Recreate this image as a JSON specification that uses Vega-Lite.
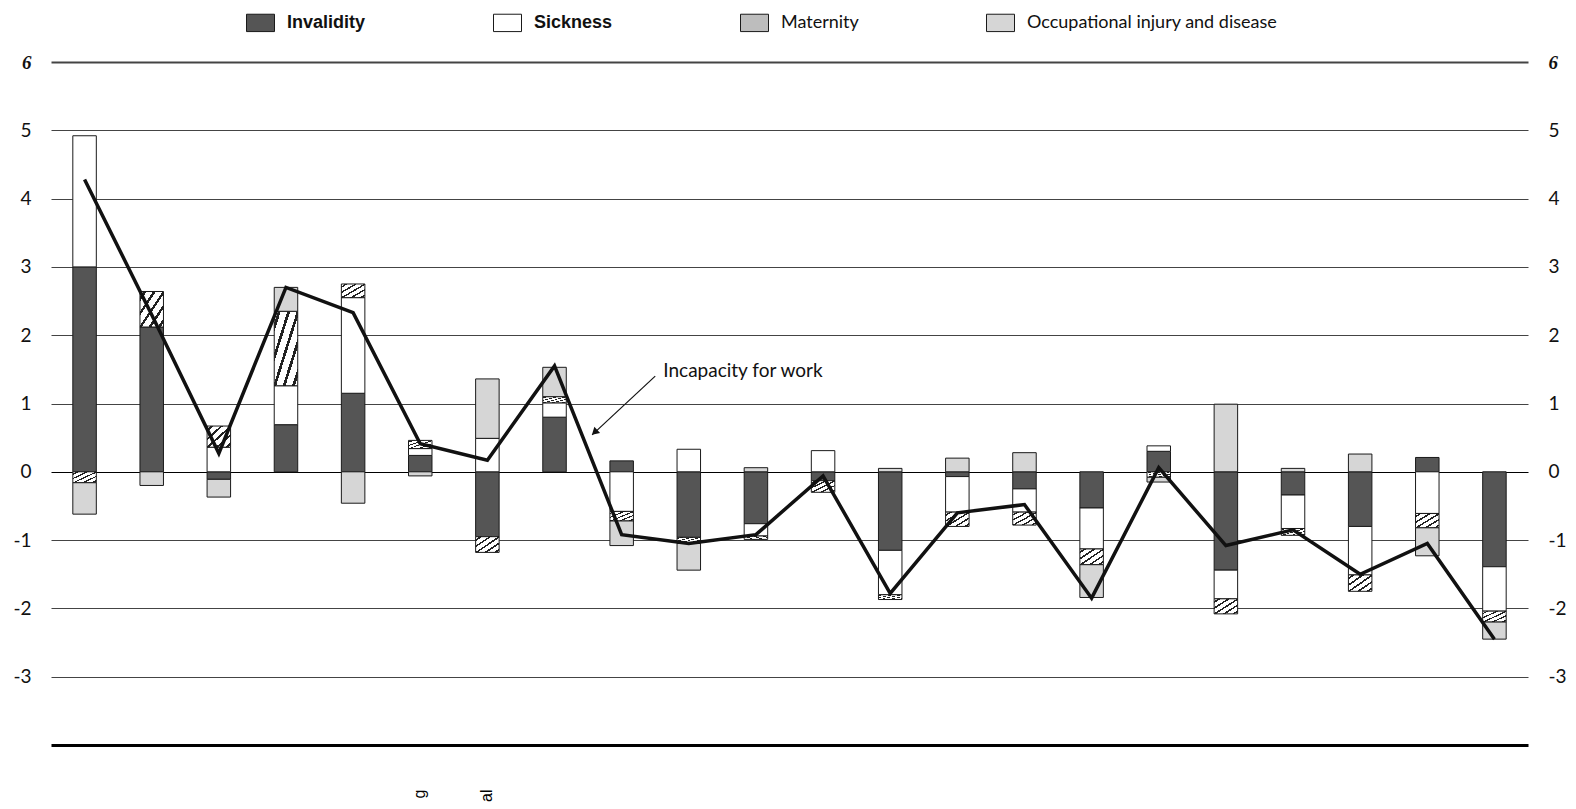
{
  "$schema": "https://vega.github.io/schema/vega-lite/v6.json",
  "width": 1477,
  "height": 683,
  "autosize": {"type": "none"},
  "padding": {"left": 51, "top": 62, "right": 48, "bottom": 64},
  "background": "#ffffff",
  "config": {"view": {"stroke": null}},
  "datasets": {
    "bars": [
      {"cat": 1, "type": "Invalidity", "value": 3.0},
      {"cat": 1, "type": "Sickness", "value": 1.92},
      {"cat": 1, "type": "Maternity", "value": -0.16},
      {"cat": 1, "type": "Occupational injury and disease", "value": -0.46},
      {"cat": 2, "type": "Invalidity", "value": 2.12},
      {"cat": 2, "type": "Maternity", "value": 0.52},
      {"cat": 2, "type": "Occupational injury and disease", "value": -0.2},
      {"cat": 3, "type": "Invalidity", "value": -0.11},
      {"cat": 3, "type": "Sickness", "value": 0.36},
      {"cat": 3, "type": "Maternity", "value": 0.31},
      {"cat": 3, "type": "Occupational injury and disease", "value": -0.26},
      {"cat": 4, "type": "Invalidity", "value": 0.69},
      {"cat": 4, "type": "Sickness", "value": 0.57},
      {"cat": 4, "type": "Maternity", "value": 1.09},
      {"cat": 4, "type": "Occupational injury and disease", "value": 0.35},
      {"cat": 5, "type": "Invalidity", "value": 1.15},
      {"cat": 5, "type": "Sickness", "value": 1.4},
      {"cat": 5, "type": "Maternity", "value": 0.2},
      {"cat": 5, "type": "Occupational injury and disease", "value": -0.46},
      {"cat": 6, "type": "Invalidity", "value": 0.24},
      {"cat": 6, "type": "Sickness", "value": 0.1},
      {"cat": 6, "type": "Maternity", "value": 0.12},
      {"cat": 6, "type": "Occupational injury and disease", "value": -0.06},
      {"cat": 7, "type": "Invalidity", "value": -0.95},
      {"cat": 7, "type": "Sickness", "value": 0.49},
      {"cat": 7, "type": "Maternity", "value": -0.23},
      {"cat": 7, "type": "Occupational injury and disease", "value": 0.87},
      {"cat": 8, "type": "Invalidity", "value": 0.8},
      {"cat": 8, "type": "Sickness", "value": 0.21},
      {"cat": 8, "type": "Maternity", "value": 0.09},
      {"cat": 8, "type": "Occupational injury and disease", "value": 0.43},
      {"cat": 9, "type": "Invalidity", "value": 0.16},
      {"cat": 9, "type": "Sickness", "value": -0.58},
      {"cat": 9, "type": "Maternity", "value": -0.14},
      {"cat": 9, "type": "Occupational injury and disease", "value": -0.36},
      {"cat": 10, "type": "Invalidity", "value": -0.96},
      {"cat": 10, "type": "Sickness", "value": 0.33},
      {"cat": 10, "type": "Maternity", "value": -0.09},
      {"cat": 10, "type": "Occupational injury and disease", "value": -0.39},
      {"cat": 11, "type": "Invalidity", "value": -0.76},
      {"cat": 11, "type": "Sickness", "value": -0.18},
      {"cat": 11, "type": "Maternity", "value": -0.05},
      {"cat": 11, "type": "Occupational injury and disease", "value": 0.06},
      {"cat": 12, "type": "Invalidity", "value": -0.13},
      {"cat": 12, "type": "Sickness", "value": 0.31},
      {"cat": 12, "type": "Maternity", "value": -0.17},
      {"cat": 13, "type": "Invalidity", "value": -1.15},
      {"cat": 13, "type": "Sickness", "value": -0.65},
      {"cat": 13, "type": "Maternity", "value": -0.07},
      {"cat": 13, "type": "Occupational injury and disease", "value": 0.05},
      {"cat": 14, "type": "Invalidity", "value": -0.07},
      {"cat": 14, "type": "Sickness", "value": -0.52},
      {"cat": 14, "type": "Maternity", "value": -0.21},
      {"cat": 14, "type": "Occupational injury and disease", "value": 0.2},
      {"cat": 15, "type": "Invalidity", "value": -0.25},
      {"cat": 15, "type": "Sickness", "value": -0.34},
      {"cat": 15, "type": "Maternity", "value": -0.19},
      {"cat": 15, "type": "Occupational injury and disease", "value": 0.28},
      {"cat": 16, "type": "Invalidity", "value": -0.53},
      {"cat": 16, "type": "Sickness", "value": -0.6},
      {"cat": 16, "type": "Maternity", "value": -0.23},
      {"cat": 16, "type": "Occupational injury and disease", "value": -0.48},
      {"cat": 17, "type": "Invalidity", "value": 0.3},
      {"cat": 17, "type": "Sickness", "value": 0.08},
      {"cat": 17, "type": "Maternity", "value": -0.08},
      {"cat": 17, "type": "Occupational injury and disease", "value": -0.07},
      {"cat": 18, "type": "Invalidity", "value": -1.44},
      {"cat": 18, "type": "Sickness", "value": -0.42},
      {"cat": 18, "type": "Maternity", "value": -0.22},
      {"cat": 18, "type": "Occupational injury and disease", "value": 0.99},
      {"cat": 19, "type": "Invalidity", "value": -0.34},
      {"cat": 19, "type": "Sickness", "value": -0.49},
      {"cat": 19, "type": "Maternity", "value": -0.1},
      {"cat": 19, "type": "Occupational injury and disease", "value": 0.05},
      {"cat": 20, "type": "Invalidity", "value": -0.8},
      {"cat": 20, "type": "Sickness", "value": -0.71},
      {"cat": 20, "type": "Maternity", "value": -0.24},
      {"cat": 20, "type": "Occupational injury and disease", "value": 0.26},
      {"cat": 21, "type": "Invalidity", "value": 0.21},
      {"cat": 21, "type": "Sickness", "value": -0.61},
      {"cat": 21, "type": "Maternity", "value": -0.21},
      {"cat": 21, "type": "Occupational injury and disease", "value": -0.41},
      {"cat": 22, "type": "Invalidity", "value": -1.39},
      {"cat": 22, "type": "Sickness", "value": -0.65},
      {"cat": 22, "type": "Maternity", "value": -0.16},
      {"cat": 22, "type": "Occupational injury and disease", "value": -0.25}
    ],
    "line": [
      {"cat": 1, "value": 4.28}, {"cat": 2, "value": 2.3}, {"cat": 3, "value": 0.27},
      {"cat": 4, "value": 2.7}, {"cat": 5, "value": 2.33}, {"cat": 6, "value": 0.41},
      {"cat": 7, "value": 0.17}, {"cat": 8, "value": 1.55}, {"cat": 9, "value": -0.92},
      {"cat": 10, "value": -1.05}, {"cat": 11, "value": -0.92}, {"cat": 12, "value": -0.06},
      {"cat": 13, "value": -1.78}, {"cat": 14, "value": -0.6}, {"cat": 15, "value": -0.48},
      {"cat": 16, "value": -1.85}, {"cat": 17, "value": 0.06}, {"cat": 18, "value": -1.08},
      {"cat": 19, "value": -0.85}, {"cat": 20, "value": -1.5}, {"cat": 21, "value": -1.05},
      {"cat": 22, "value": -2.45}
    ],
    "arrow": [{"x": 9.0, "y": 1.4, "x2": 8.06, "y2": 0.54}],
    "head": [{"x": 8.11, "y": 0.59}],
    "note": [{"x": 9.12, "y": 1.48, "text": "Incapacity for work"}]
  },
  "resolve": {"scale": {"x": "independent"}, "axis": {"y": "independent", "x": "independent"}},
  "layer": [
    {
      "data": {"name": "bars"},
      "transform": [
        {"calculate": "indexof(['Invalidity','Sickness','Maternity','Occupational injury and disease'], datum.type)", "as": "ord"}
      ],
      "mark": {"type": "bar", "stroke": "#1a1a1a", "strokeWidth": 1},
      "encoding": {
        "x": {
          "field": "cat", "type": "ordinal",
          "scale": {"paddingInner": 0.65, "paddingOuter": 0.325},
          "axis": {
            "title": null, "ticks": false, "domain": true, "domainColor": "#000", "domainWidth": 3,
            "labelAngle": -90, "labelPadding": 44,
            "labelExpr": "datum.value == 6 ? 'g' : datum.value == 7 ? 'al' : ''",
            "labelFont": "Liberation Sans", "labelFontSize": 16, "labelColor": "#000"
          }
        },
        "y": {
          "field": "value", "type": "quantitative", "stack": "zero",
          "scale": {"domain": [-4, 6], "nice": false, "zero": false},
          "axis": {
            "orient": "left", "title": null, "values": [-3, -2, -1, 0, 1, 2, 3, 4, 5, 6],
            "labelExpr": "datum.value < 0 ? '-' + abs(datum.value) : '' + datum.value",
            "domain": false, "ticks": false, "labelPadding": 20,
            "labelFont": {"condition": {"test": "datum.value === 6", "value": "Liberation Serif"}, "value": "Lato"},
            "labelFontStyle": {"condition": {"test": "datum.value === 6", "value": "italic"}, "value": "normal"},
            "labelFontWeight": {"condition": {"test": "datum.value === 6", "value": "bold"}, "value": "normal"},
            "labelFontSize": 19, "labelColor": "#111",
            "grid": true,
            "gridColor": {"condition": {"test": "datum.value === 0", "value": "#000"}, "value": "#444"},
            "gridWidth": {"condition": {"test": "datum.value === 6", "value": 1.8}, "value": 1.2}
          }
        },
        "order": {"field": "ord", "type": "quantitative"},
        "fill": {
          "field": "type", "type": "nominal",
          "scale": {
            "domain": ["Invalidity", "Sickness", "Maternity", "Occupational injury and disease"],
            "range": ["#555555", "#ffffff", "#bdbdbd", "#d6d6d6"]
          },
          "condition": {
            "test": "datum.type === 'Maternity'",
            "value": {
              "gradient": "linear", "x1": 0, "y1": 0, "x2": 1, "y2": 1,
              "stops": [
                {"offset": 0, "color": "#ffffff"}, {"offset": 0.08, "color": "#ffffff"},
                {"offset": 0.08, "color": "#222222"}, {"offset": 0.14, "color": "#222222"},
                {"offset": 0.14, "color": "#ffffff"}, {"offset": 0.28, "color": "#ffffff"},
                {"offset": 0.28, "color": "#222222"}, {"offset": 0.34, "color": "#222222"},
                {"offset": 0.34, "color": "#ffffff"}, {"offset": 0.48, "color": "#ffffff"},
                {"offset": 0.48, "color": "#222222"}, {"offset": 0.54, "color": "#222222"},
                {"offset": 0.54, "color": "#ffffff"}, {"offset": 0.68, "color": "#ffffff"},
                {"offset": 0.68, "color": "#222222"}, {"offset": 0.74, "color": "#222222"},
                {"offset": 0.74, "color": "#ffffff"}, {"offset": 0.88, "color": "#ffffff"},
                {"offset": 0.88, "color": "#222222"}, {"offset": 0.94, "color": "#222222"},
                {"offset": 0.94, "color": "#ffffff"}, {"offset": 1, "color": "#ffffff"}
              ]
            }
          },
          "legend": {
            "title": null, "orient": "none", "legendX": 195, "legendY": -54,
            "direction": "horizontal", "padding": 0,
            "symbolType": "M-1,-0.62H1V0.62H-1Z", "symbolSize": 784,
            "symbolStrokeColor": "#1a1a1a", "symbolStrokeWidth": 1,
            "labelFont": "Lato", "labelFontSize": 18, "labelColor": "#111", "labelLimit": 400,
            "labelOffset": 12, "columnPadding": 125,
            "encode": {
              "labels": {
                "update": {
                  "fontWeight": {"signal": "indexof(['Invalidity','Sickness'], datum.value) >= 0 ? 'bold' : 'normal'"},
                  "font": {"signal": "indexof(['Invalidity','Sickness'], datum.value) >= 0 ? 'Liberation Sans' : 'Lato'"}
                }
              },
              "symbols": {
                "update": {
                  "stroke": {"value": "#1a1a1a"},
                  "strokeWidth": {"value": 1}
                }
              }
            }
          }
        }
      }
    },
    {
      "data": {"name": "line"},
      "mark": {"type": "line", "color": "#111", "strokeWidth": 3.5},
      "encoding": {
        "x": {"field": "cat", "type": "ordinal", "axis": null},
        "y": {
          "field": "value", "type": "quantitative",
          "scale": {"domain": [-4, 6], "nice": false, "zero": false},
          "axis": {
            "orient": "right", "title": null, "values": [-3, -2, -1, 0, 1, 2, 3, 4, 5, 6],
            "labelExpr": "datum.value < 0 ? '-' + abs(datum.value) : '' + datum.value",
            "domain": false, "ticks": false, "grid": false, "labelPadding": 20,
            "labelFont": {"condition": {"test": "datum.value === 6", "value": "Liberation Serif"}, "value": "Lato"},
            "labelFontStyle": {"condition": {"test": "datum.value === 6", "value": "italic"}, "value": "normal"},
            "labelFontWeight": {"condition": {"test": "datum.value === 6", "value": "bold"}, "value": "normal"},
            "labelFontSize": 19, "labelColor": "#111"
          }
        }
      }
    },
    {
      "data": {"name": "arrow"},
      "mark": {"type": "rule", "color": "#111", "strokeWidth": 1.2},
      "encoding": {
        "x": {"field": "x", "type": "quantitative", "scale": {"domain": [0, 22], "nice": false, "zero": false}, "axis": null},
        "x2": {"field": "x2"},
        "y": {"field": "y", "type": "quantitative", "scale": {"domain": [-4, 6], "nice": false, "zero": false}, "axis": null},
        "y2": {"field": "y2"}
      }
    },
    {
      "data": {"name": "head"},
      "mark": {"type": "point", "shape": "triangle", "filled": true, "color": "#111", "size": 70, "angle": 227, "opacity": 1},
      "encoding": {
        "x": {"field": "x", "type": "quantitative", "scale": {"domain": [0, 22], "nice": false, "zero": false}, "axis": null},
        "y": {"field": "y", "type": "quantitative", "scale": {"domain": [-4, 6], "nice": false, "zero": false}, "axis": null}
      }
    },
    {
      "data": {"name": "note"},
      "mark": {"type": "text", "align": "left", "baseline": "middle", "font": "Lato", "fontSize": 19, "color": "#111"},
      "encoding": {
        "x": {"field": "x", "type": "quantitative", "scale": {"domain": [0, 22], "nice": false, "zero": false}, "axis": null},
        "y": {"field": "y", "type": "quantitative", "scale": {"domain": [-4, 6], "nice": false, "zero": false}, "axis": null},
        "text": {"field": "text"}
      }
    }
  ]
}
